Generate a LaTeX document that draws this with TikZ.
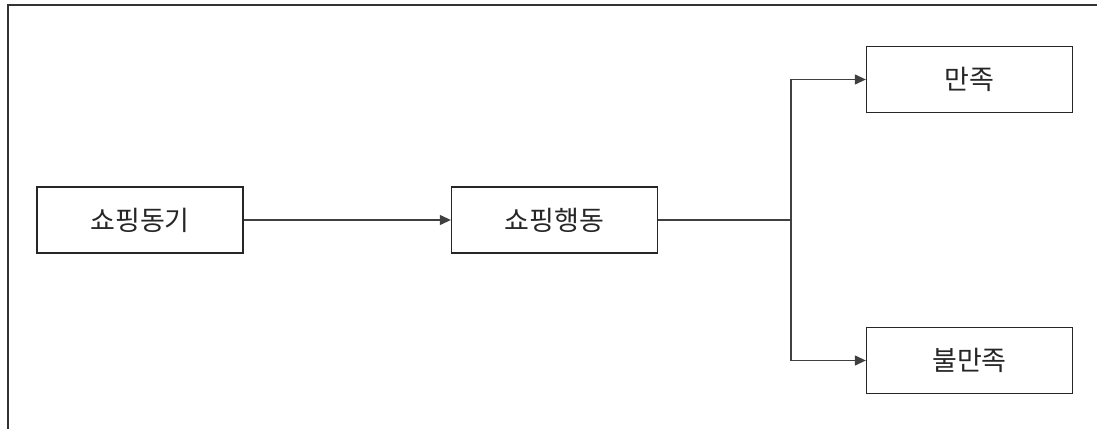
\documentclass[tikz,border=0pt]{standalone}
\usepackage{fontspec}
\newfontfamily\kr{Noto Sans CJK KR}
\usetikzlibrary{arrows.meta}
\begin{document}
\begin{tikzpicture}[x=1pt,y=-1pt,
  box/.style={draw=black!85,line width=1.3pt,minimum width=206pt,minimum height=66pt,inner sep=0pt,font=\kr\fontsize{27}{29}\selectfont,text=black!85},
  conn/.style={draw=black!75,line width=1.2pt},
  arr/.style={conn,-{Triangle[length=11pt,width=10pt]}}]
\useasboundingbox (0,0) rectangle (1097,429);
\fill[white] (0,0) rectangle (1097,429);
\draw[black!80,line width=2pt] (8,429) -- (8,5) -- (1097,5);
\node[box] (a) at (140,220) {쇼핑동기};
\node[box] (b) at (554.5,220) {쇼핑행동};
\node[box] (c) at (969.5,79.5) {만족};
\node[box] (d) at (969.5,360.5) {불만족};
\coordinate (j) at (791,220);
\draw[arr] (a) -- (b);
\draw[conn] (b) -- (j);
\draw[arr] (j) |- (c);
\draw[arr] (j) |- (d);
\end{tikzpicture}
\end{document}
